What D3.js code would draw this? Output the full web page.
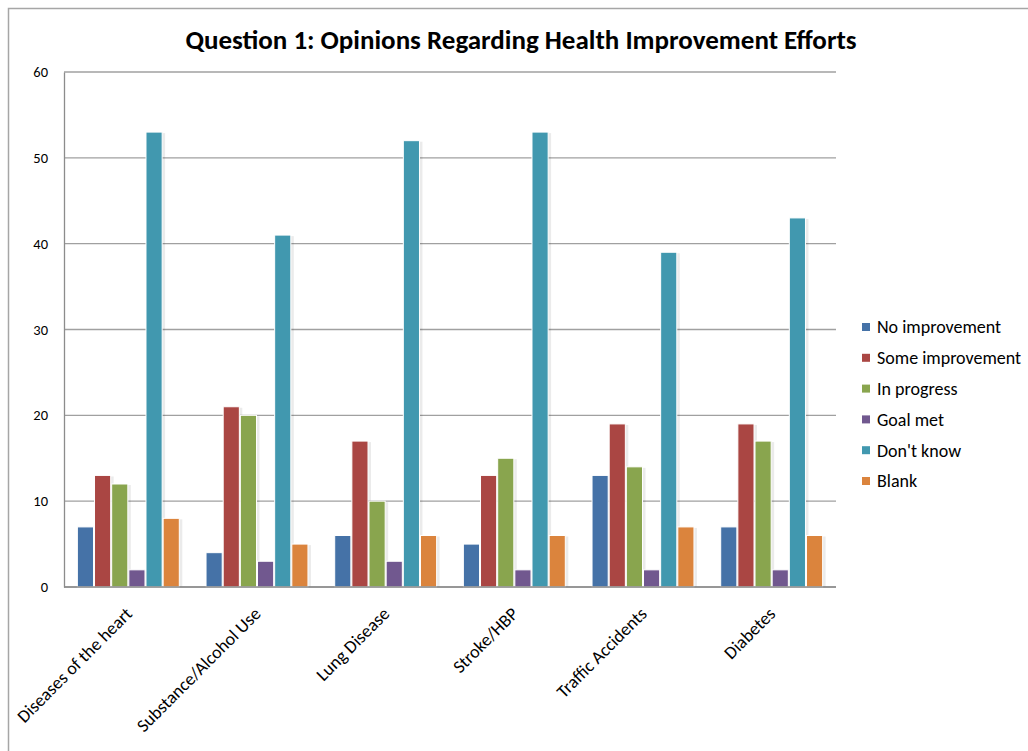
<!DOCTYPE html>
<html><head><meta charset="utf-8">
<script src="https://cdn.jsdelivr.net/npm/d3@7"></script>
<style>body{margin:0;background:#fff}svg{display:block}text{font-family:Carlito,Calibri,"Open Sans",sans-serif}</style>
</head><body>
<svg id="c" width="1028" height="751"></svg>
<script>
const categories = ["Diseases of the heart","Substance/Alcohol Use","Lung Disease","Stroke/HBP","Traffic Accidents","Diabetes"];
const seriesNames = ["No improvement","Some improvement","In progress","Goal met","Don't know","Blank"];
const noImprovement   = [7, 4, 6, 5, 13, 7];
const someImprovement = [13, 21, 17, 13, 19, 19];
const inProgress      = [12, 20, 10, 15, 14, 17];
const goalMet         = [2, 3, 3, 2, 2, 2];
const dontKnow        = [53, 41, 52, 53, 39, 43];
const blank           = [8, 5, 6, 6, 7, 6];
const yTicks = [0, 10, 20, 30, 40, 50, 60];
const colors = ["#4572A7","#AA4643","#89A54E","#71588F","#4198AF","#DB843D"];
const series = [noImprovement, someImprovement, inProgress, goalMet, dontKnow, blank];

const svg = d3.select("#c");
svg.append("rect").attr("x",8.5).attr("y",8.5).attr("width",1040).attr("height",770)
  .attr("fill","#fff").attr("stroke","#a6a6a6").attr("stroke-width",1.5);

const L=64, R=836, T=72, B=587;
const x0 = d3.scaleBand().domain(categories).range([L,R]).paddingInner(0.2).paddingOuter(0.1);
const x1 = d3.scaleBand().domain(seriesNames).range([0,x0.bandwidth()]);
const y = d3.scaleLinear().domain([0,60]).range([B,T]);

svg.append("text").attr("x",521).attr("y",49).attr("text-anchor","middle")
  .attr("font-size",27).attr("font-weight","bold").attr("fill","#000")
  .text("Question 1: Opinions Regarding Health Improvement Efforts");

// grid
svg.append("g").selectAll("line").data(yTicks).join("line")
  .attr("x1",L).attr("x2",R).attr("y1",d=>y(d)).attr("y2",d=>y(d))
  .attr("stroke","#a0a0a0").attr("stroke-width",1.3);

const yAxis = svg.append("g").attr("transform",`translate(${L},0)`)
  .call(d3.axisLeft(y).tickValues(yTicks).tickSize(0).tickPadding(16));
yAxis.select(".domain").attr("stroke","#8c8c8c").attr("stroke-width",1.3);
yAxis.selectAll("text").attr("font-size",14.5).attr("fill","#000").style("font-family","Carlito,Calibri,'Open Sans',sans-serif");

// bars
const groups = svg.append("g").selectAll("g").data(categories).join("g")
  .attr("transform",d=>`translate(${x0(d)},0)`);
seriesNames.forEach((s,si)=>{
  groups.append("rect")
    .attr("x",(d,i)=>x1(s)+2.5).attr("y",(d,i)=>y(series[si][i])+1)
    .attr("width",x1.bandwidth()).attr("height",(d,i)=>B-y(series[si][i])-1)
    .attr("fill","#000").attr("opacity",0.08);
  groups.append("rect")
    .attr("x",(d,i)=>x1(s)+0.5).attr("y",(d,i)=>y(series[si][i]))
    .attr("width",x1.bandwidth()-1).attr("height",(d,i)=>B-y(series[si][i]))
    .attr("fill",colors[si]).attr("stroke","#fff").attr("stroke-width",1);
});

// bottom axis line
svg.append("line").attr("x1",L).attr("x2",R).attr("y1",B).attr("y2",B)
  .attr("stroke","#8c8c8c").attr("stroke-width",1.3);

// x labels
svg.append("g").selectAll("text").data(categories).join("text")
  .attr("transform",d=>`translate(${x0(d)+x0.bandwidth()/2-4},${B+19}) rotate(-45)`)
  .attr("text-anchor","end").attr("dy","0.7em").attr("font-size",18).attr("fill","#000")
  .text(d=>d);

// legend
const lg = svg.append("g").selectAll("g").data(seriesNames).join("g")
  .attr("transform",(d,i)=>`translate(862,${327+i*30.8})`);
lg.append("rect").attr("x",0).attr("y",-4).attr("width",8).attr("height",8).attr("fill",(d,i)=>colors[i]);
lg.append("text").attr("x",15).attr("y",0).attr("dy","0.35em").attr("font-size",18).attr("fill","#000").text(d=>d);
</script>
</body></html>
